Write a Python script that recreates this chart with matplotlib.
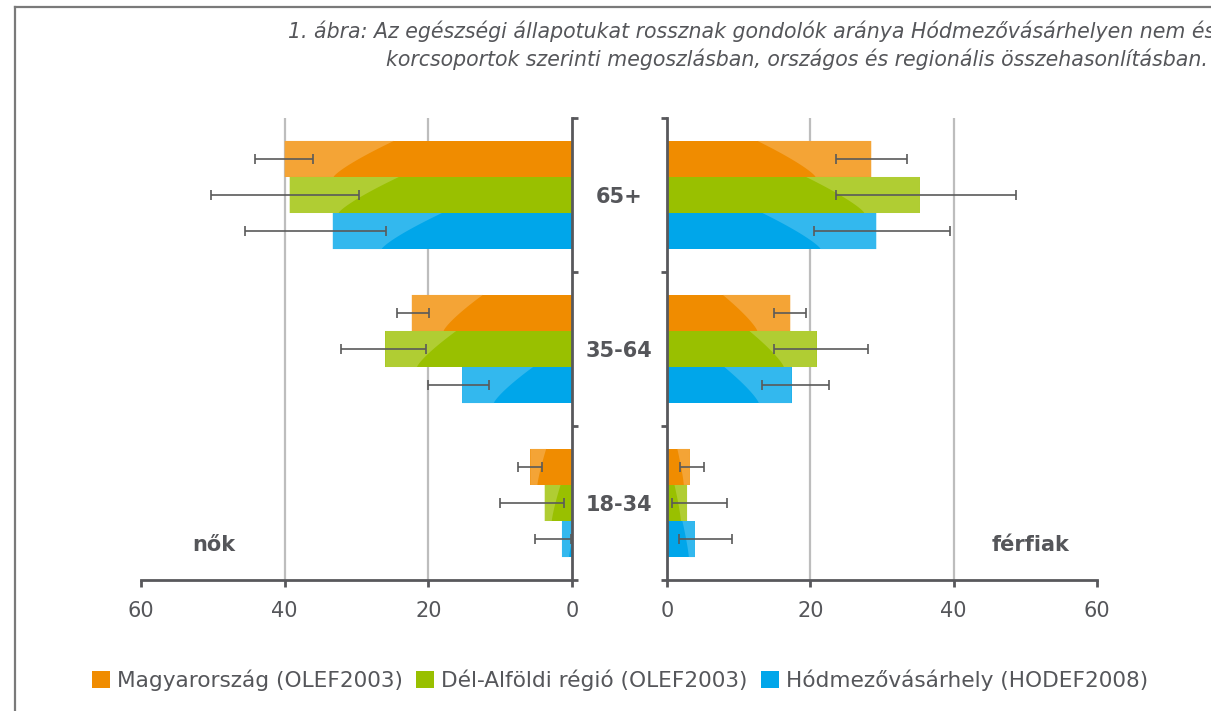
import matplotlib
matplotlib.use("Agg")
import matplotlib.pyplot as plt
from matplotlib.patches import Polygon, Patch
from matplotlib.lines import Line2D
import numpy as np

plt.rcParams['font.family'] = ['DejaVu Sans']

# ---------------- data ----------------
groups = ["65+", "35-64", "18-34"]
series = ["Magyarország (OLEF2003)", "Dél-Alföldi régió (OLEF2003)", "Hódmezővásárhely (HODEF2008)"]

# women (nők)
women_vals = {
    "Magyarország (OLEF2003)":      [40.0, 22.3, 5.8],
    "Dél-Alföldi régió (OLEF2003)": [39.3, 26.0, 3.8],
    "Hódmezővásárhely (HODEF2008)": [33.3, 15.3, 1.4],
}
women_lo = {
    "Magyarország (OLEF2003)":      [36.1, 19.9, 4.2],
    "Dél-Alföldi régió (OLEF2003)": [29.7, 20.3, 1.1],
    "Hódmezővásárhely (HODEF2008)": [25.9, 11.6, 0.2],
}
women_hi = {
    "Magyarország (OLEF2003)":      [44.1, 24.4, 7.5],
    "Dél-Alföldi régió (OLEF2003)": [50.3, 32.2, 10.0],
    "Hódmezővásárhely (HODEF2008)": [45.5, 20.1, 5.2],
}
# men (férfiak)
men_vals = {
    "Magyarország (OLEF2003)":      [28.5, 17.2, 3.2],
    "Dél-Alföldi régió (OLEF2003)": [35.3, 20.9, 2.8],
    "Hódmezővásárhely (HODEF2008)": [29.2, 17.4, 3.9],
}
men_lo = {
    "Magyarország (OLEF2003)":      [23.6, 14.9, 1.8],
    "Dél-Alföldi régió (OLEF2003)": [23.6, 14.9, 0.7],
    "Hódmezővásárhely (HODEF2008)": [20.5, 13.2, 1.7],
}
men_hi = {
    "Magyarország (OLEF2003)":      [33.5, 19.4, 5.2],
    "Dél-Alföldi régió (OLEF2003)": [48.7, 28.0, 8.4],
    "Hódmezővásárhely (HODEF2008)": [39.5, 22.6, 9.1],
}
xticks = [0, 20, 40, 60]
panel_labels = ["nők", "férfiak"]
title_lines = ["1. ábra: Az egészségi állapotukat rossznak gondolók aránya Hódmezővásárhelyen nem és",
               "korcsoportok szerinti megoszlásban, országos és regionális összehasonlításban."]

# ---------------- style ----------------
dark = {"Magyarország (OLEF2003)": "#F08C00",
        "Dél-Alföldi régió (OLEF2003)": "#99C000",
        "Hódmezővásárhely (HODEF2008)": "#00A6EA"}
light = {"Magyarország (OLEF2003)": "#F4A436",
         "Dél-Alföldi régió (OLEF2003)": "#B0CD33",
         "Hódmezővásárhely (HODEF2008)": "#33B8EE"}
TXT = "#55565a"
AX = "#58585c"
W, H = 1211, 711

fig = plt.figure(figsize=(W / 100, H / 100), dpi=100)
axL = fig.add_axes([141 / W, 1 - 580 / H, 431 / W, 462 / H])
axR = fig.add_axes([667 / W, 1 - 580 / H, 430 / W, 462 / H])

bar_h = 0.234
offsets = [-bar_h, 0.0, bar_h]
centers = np.arange(len(groups)) + 0.5


def draw_panel(ax, vals, lo, hi, frac_top, frac_bot):
    ax.set_xlim(0, 60)
    ax.set_ylim(3, 0)
    for g in [20, 40]:
        ax.axvline(g, color="#bdbdbd", lw=1.6, zorder=0)
    for gi in range(len(groups)):
        gmax = max(vals[s][gi] for s in series)
        w_top = frac_top * gmax
        w_bot = frac_bot * gmax
        for si, s in enumerate(series):
            v = vals[s][gi]
            y = centers[gi] + offsets[si]
            ax.barh(y, v, height=bar_h, color=dark[s], zorder=2, linewidth=0)
            # gloss on outer end
            t = np.linspace(0, 1, 30)
            w = w_bot + (w_top - w_bot) * (1 - t) ** 1.25
            w = np.minimum(w, v)
            ys = y - bar_h / 2 + t * bar_h
            xs = v - w
            pts = [(v, y - bar_h / 2)] + list(zip(xs, ys)) + [(v, y + bar_h / 2)]
            ax.add_patch(Polygon(pts, closed=True, facecolor=light[s], edgecolor="none", zorder=2.5))
            ax.errorbar(v, y, xerr=[[v - lo[s][gi]], [hi[s][gi] - v]], fmt="none",
                        ecolor="#5a5a5a", elinewidth=1.2, capsize=3.3, capthick=1.2, zorder=4)
    ax.set_xticks(xticks)
    ax.set_xticklabels([str(x) for x in xticks])
    ax.set_yticks([0, 1, 2, 3])
    ax.set_yticklabels([])
    ax.spines["top"].set_visible(False)
    for sp in ax.spines.values():
        sp.set_color(AX)
        sp.set_linewidth(2.0)
    ax.tick_params(axis="x", direction="out", length=5, width=2.0, color=AX,
                   labelsize=15, labelcolor=TXT, pad=10)
    ax.tick_params(axis="y", direction="out", length=4, width=2.0, color=AX)


draw_panel(axL, women_vals, women_lo, women_hi, 0.38, 0.17)
axL.invert_xaxis()
axL.spines["left"].set_visible(False)
axL.yaxis.tick_right()
axL.tick_params(axis="y", which="both", left=False, right=True, labelleft=False, labelright=False)

draw_panel(axR, men_vals, men_lo, men_hi, 0.45, 0.22)
axR.spines["right"].set_visible(False)
axR.tick_params(axis="y", which="both", left=True, right=False, labelleft=False)

# group labels between panels
for gi, g in enumerate(groups):
    yfig = 1 - (120 + 462 * centers[gi] / 3) / H
    fig.text(619 / W, yfig, g, ha="center", va="center", fontsize=15,
             fontweight="bold", color=TXT)

fig.text(214 / W, 1 - 545 / H, panel_labels[0], ha="center", va="center",
         fontsize=15, fontweight="bold", color=TXT)
fig.text(1031 / W, 1 - 545 / H, panel_labels[1], ha="center", va="center",
         fontsize=15, fontweight="bold", color=TXT)

# title
fig.text(1215 / W, 1 - 31 / H, title_lines[0], ha="right", va="center",
         fontsize=14.8, style="italic", color=TXT)
fig.text(1208 / W, 1 - 59 / H, title_lines[1], ha="right", va="center",
         fontsize=14.8, style="italic", color=TXT)

# frame
fig.add_artist(Line2D([15 / W, 15 / W], [0, 1 - 7 / H], transform=fig.transFigure,
                      color="#7a7a7a", lw=1.6))
fig.add_artist(Line2D([15 / W, 1], [1 - 7 / H, 1 - 7 / H], transform=fig.transFigure,
                      color="#7a7a7a", lw=1.6))

# legend
handles = [Patch(facecolor=dark[s], edgecolor="none") for s in series]
leg = fig.legend(handles, series, loc="center", bbox_to_anchor=(620 / W, 1 - 680 / H),
                 ncol=3, frameon=False, fontsize=15.6, handlelength=0.82, handleheight=0.82,
                 handletextpad=0.35, columnspacing=0.6, borderaxespad=0)
for t in leg.get_texts():
    t.set_color(TXT)

fig.savefig("out.png", dpi=100)
